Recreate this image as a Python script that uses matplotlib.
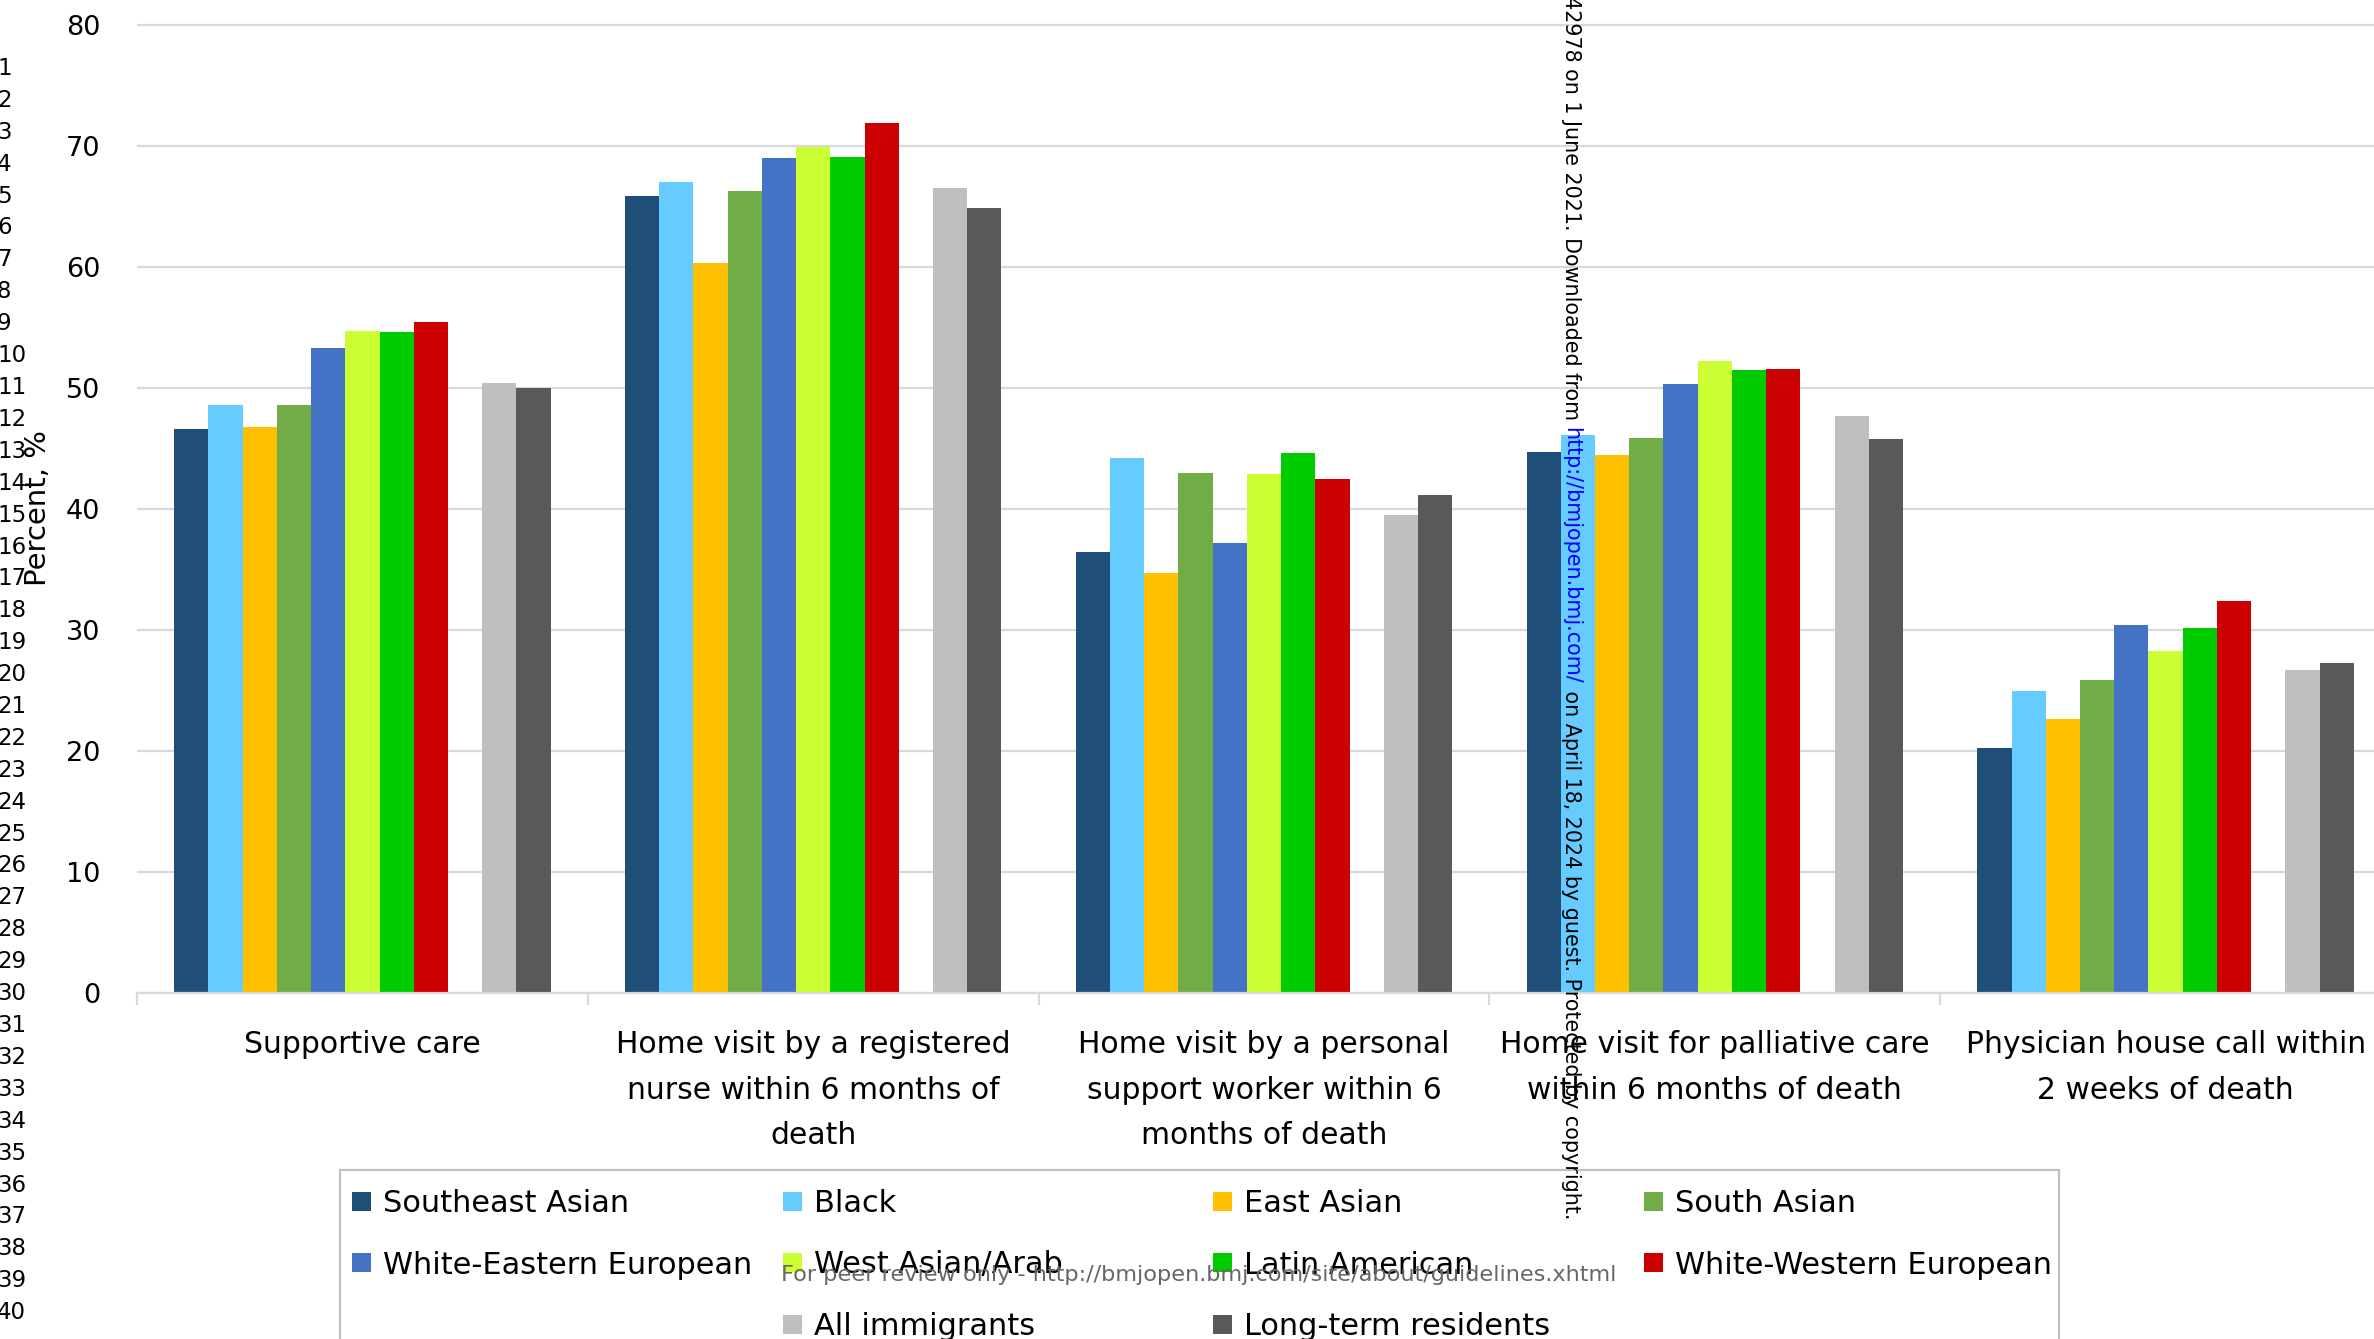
import matplotlib
matplotlib.use("Agg")
import matplotlib.pyplot as plt
from matplotlib.patches import Rectangle
import numpy as np

# ---- data -------------------------------------------------------------
categories = [
    "Supportive care",
    "Home visit by a registered\nnurse within 6 months of\ndeath",
    "Home visit by a personal\nsupport worker within 6\nmonths of death",
    "Home visit for palliative care\nwithin 6 months of death",
    "Physician house call within\n2 weeks of death",
]
groups = [
    "Southeast Asian", "Black", "East Asian", "South Asian",
    "White-Eastern European", "West Asian/Arab", "Latin American",
    "White-Western European", "All immigrants", "Long-term residents",
]
southeast_asian = [46.6, 65.9, 36.5, 44.7, 20.3]
black = [48.6, 67.0, 44.2, 46.1, 25.0]
east_asian = [46.8, 60.3, 34.7, 44.5, 22.7]
south_asian = [48.6, 66.3, 43.0, 45.9, 25.9]
white_eastern_european = [53.3, 69.0, 37.2, 50.3, 30.4]
west_asian_arab = [54.7, 69.9, 42.9, 52.2, 28.3]
latin_american = [54.6, 69.1, 44.6, 51.5, 30.2]
white_western_european = [55.5, 71.9, 42.5, 51.6, 32.4]
all_immigrants = [50.4, 66.5, 39.5, 47.7, 26.7]
long_term_residents = [50.0, 64.9, 41.2, 45.8, 27.3]
y_ticks = [0, 10, 20, 30, 40, 50, 60, 70, 80]

series = [southeast_asian, black, east_asian, south_asian,
          white_eastern_european, west_asian_arab, latin_american,
          white_western_european, all_immigrants, long_term_residents]
colors = ["#1F4E79", "#66CCFF", "#FFC000", "#70AD47", "#4472C4",
          "#CCFF33", "#00CC00", "#CC0000", "#BFBFBF", "#595959"]
# slot 8 is left empty between the ethnic groups and the totals
slots = [0, 1, 2, 3, 4, 5, 6, 7, 9, 10]

# ---- figure geometry (pixels measured from the top-left corner) --------
W, H = 2374, 1339
fig = plt.figure(figsize=(W / 100, H / 100), dpi=100, facecolor="white")


def fx(px):
    return px / W


def fy(py):
    return 1 - py / H


x_left, x_right = 137.0, 2391.0
y_zero, y_80 = 993.3, 25.0
ppu = (y_zero - y_80) / 80.0
y_top_val = 81.0

ax = fig.add_axes([fx(x_left), fy(y_zero), (x_right - x_left) / W,
                   y_top_val * ppu / H])
ax.set_xlim(-0.5, len(categories) - 0.5)
ax.set_ylim(0, y_top_val)

slot_w = 0.0759
x = np.arange(len(categories))
for vals, col, k in zip(series, colors, slots):
    ax.bar(x + (k - 5) * slot_w, vals, width=slot_w, color=col,
           linewidth=0, zorder=2)

grid_col = "#d9d9d9"
ax.set_yticks(y_ticks)
ax.yaxis.grid(True, color=grid_col, linewidth=1.6)
ax.set_axisbelow(True)
for side in ("left", "right", "top"):
    ax.spines[side].set_visible(False)
ax.spines["bottom"].set_color(grid_col)
ax.spines["bottom"].set_linewidth(1.6)

ax.tick_params(axis="y", length=0, pad=26.6, labelsize=19.5,
               labelcolor="black")
ax.set_xticks(x)
ax.set_xticklabels(categories)
ax.set_xticks(np.arange(-0.5, len(categories)), minor=True)
ax.tick_params(axis="x", which="major", length=0, pad=26.5, labelsize=21.5)
ax.tick_params(axis="x", which="minor", length=8.6, width=1.6,
               color=grid_col)
for lab in ax.get_xticklabels():
    lab.set_linespacing(1.72)

# ---- y-axis title -----------------------------------------------------
fig.text(fx(46), fy(508.5), "Percent, %", rotation=90,
         rotation_mode="anchor", ha="center", va="baseline", fontsize=21)

# ---- manuscript line numbers --------------------------------------------
for i in range(1, 41):
    fig.text(fx(-3), fy(75 + (i - 1) * 31.9), str(i), ha="left",
             va="baseline", fontsize=16.5)

# ---- legend box -----------------------------------------------------
fig.add_artist(Rectangle((fx(340), fy(1400)), (2059 - 340) / W,
                         (1400 - 1170) / H, transform=fig.transFigure,
                         facecolor="white", edgecolor="#bfbfbf",
                         linewidth=1.6, zorder=1))
for name, col, k in zip(groups, colors, slots):
    r, c = divmod(k, 4)
    mx = 352 + c * 430.6
    my = 1191.5 + r * 61.5
    fig.add_artist(Rectangle((fx(mx), fy(my + 19)), 19 / W, 19 / H,
                             transform=fig.transFigure, facecolor=col,
                             edgecolor="none", zorder=2))
    fig.text(fx(mx + 31), fy(1212 + r * 61.5), name, ha="left",
             va="baseline", fontsize=21.9, zorder=3)

# ---- page watermarks --------------------------------------------------
fig.text(fx(1199), fy(1281),
         "For peer review only - http://bmjopen.bmj.com/site/about/guidelines.xhtml",
         ha="center", va="baseline", fontsize=16.1, color="#666666",
         zorder=5)

renderer = fig.canvas.get_renderer()
wm_kw = dict(rotation=-90, rotation_mode="anchor", va="baseline",
             fontsize=14.9, zorder=6)
wm_x = fx(1565)
url_start = 427
fig.text(wm_x, fy(url_start),
         "BMJ Open: first published as 10.1136/bmjopen-2020-042978 on "
         "1 June 2021. Downloaded from ", ha="right", color="black", **wm_kw)
url = fig.text(wm_x, fy(url_start), "http://bmjopen.bmj.com/", ha="left",
               color="#0000FF", **wm_kw)
url_len = url.get_window_extent(renderer).height
fig.text(wm_x, fy(url_start + url_len),
         " on April 18, 2024 by guest. Protected by copyright.", ha="left",
         color="black", **wm_kw)

fig.savefig("out.png", dpi=100, facecolor="white")
